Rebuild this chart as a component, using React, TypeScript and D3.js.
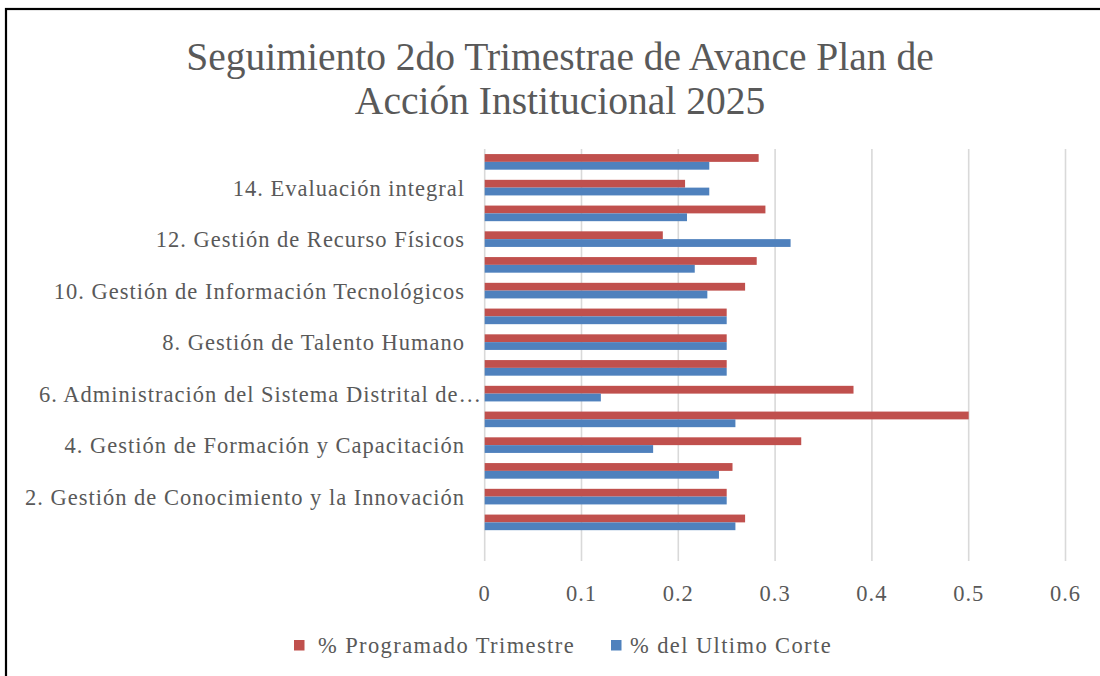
import React from "react";
import * as d3 from "d3";

const categories = [
  "",
  "1.",
  "2. Gestión de Conocimiento y la Innovación",
  "3.",
  "4. Gestión de Formación y Capacitación",
  "5.",
  "6. Administración del Sistema Distrital de…",
  "7.",
  "8. Gestión de Talento Humano",
  "9.",
  "10. Gestión de Información Tecnológicos",
  "11.",
  "12. Gestión de Recurso Físicos ",
  "13.",
  "14. Evaluación integral",
  "15.",
];
const programado = [null, 0.269, 0.25, 0.256, 0.327, 0.5, 0.381, 0.25, 0.25, 0.25, 0.269, 0.281, 0.184, 0.29, 0.207, 0.283];
const corte = [null, 0.259, 0.25, 0.242, 0.174, 0.259, 0.12, 0.25, 0.25, 0.25, 0.23, 0.217, 0.316, 0.209, 0.232, 0.232];
const xTicks = [0, 0.1, 0.2, 0.3, 0.4, 0.5, 0.6];
const seriesNames = ["% Programado Trimestre", "% del Ultimo Corte"];
const colors = ["#C0504D", "#4F81BD"];
const titleLines = ["Seguimiento 2do Trimestrae de Avance Plan de", "Acción Institucional 2025"];

const FONT = "'Liberation Serif', serif";
const TEXT = "#595959";

export default function App() {
  const x = d3.scaleLinear().domain([0, 0.6]).range([484.7, 1065.5]);
  const y = d3
    .scaleBand<string>()
    .domain(categories.map((_, i) => String(i)))
    .range([561, 149])
    .paddingInner(0)
    .paddingOuter(0);
  const bw = y.bandwidth();
  const barH = 7.8;

  return (
    <svg
      width={1100}
      height={676}
      style={{ position: "absolute", left: 0, top: 0, background: "#fff" }}
      fontFamily={FONT}
    >
      <rect x={0} y={0} width={1100} height={676} fill="#fff" />
      <rect x={6} y={9} width={1200} height={800} fill="none" stroke="#000" strokeWidth={2.2} />
      {titleLines.map((t, i) => (
        <text key={i} x={560} y={70 + i * 44} textAnchor="middle" fontSize={39.5} fill={TEXT}>
          {t}
        </text>
      ))}
      {xTicks.map((t) => (
        <line key={t} x1={x(t)} x2={x(t)} y1={149} y2={561} stroke="#D9D9D9" strokeWidth={1.6} />
      ))}
      {categories.map((c, i) => {
        const yc = (y(String(i)) as number) + bw / 2;
        const p = programado[i];
        const q = corte[i];
        const truncated = c.endsWith("…");
        return (
          <g key={i}>
            {p != null && (
              <rect x={x(0)} y={yc - barH} width={x(p) - x(0)} height={barH} fill={colors[0]} />
            )}
            {q != null && <rect x={x(0)} y={yc} width={x(q) - x(0)} height={barH} fill={colors[1]} />}
            {i % 2 === 0 && c && (
              <text
                x={truncated ? 482 : 465}
                y={yc}
                dy="0.35em"
                textAnchor="end"
                fontSize={22.5}
                letterSpacing={1}
                fill={TEXT}
              >
                {c}
              </text>
            )}
          </g>
        );
      })}
      {xTicks.map((t) => (
        <text key={t} x={x(t)} y={601} textAnchor="middle" fontSize={22.5} letterSpacing={1} fill={TEXT}>
          {String(t)}
        </text>
      ))}
      {seriesNames.map((s, i) => {
        const lx = [294, 611][i];
        return (
          <g key={s}>
            <rect x={lx} y={640} width={10.5} height={10.5} fill={colors[i]} />
            <text x={lx + [24, 19][i]} y={653} fontSize={22.5} letterSpacing={1.4} fill={TEXT}>
              {s}
            </text>
          </g>
        );
      })}
    </svg>
  );
}
